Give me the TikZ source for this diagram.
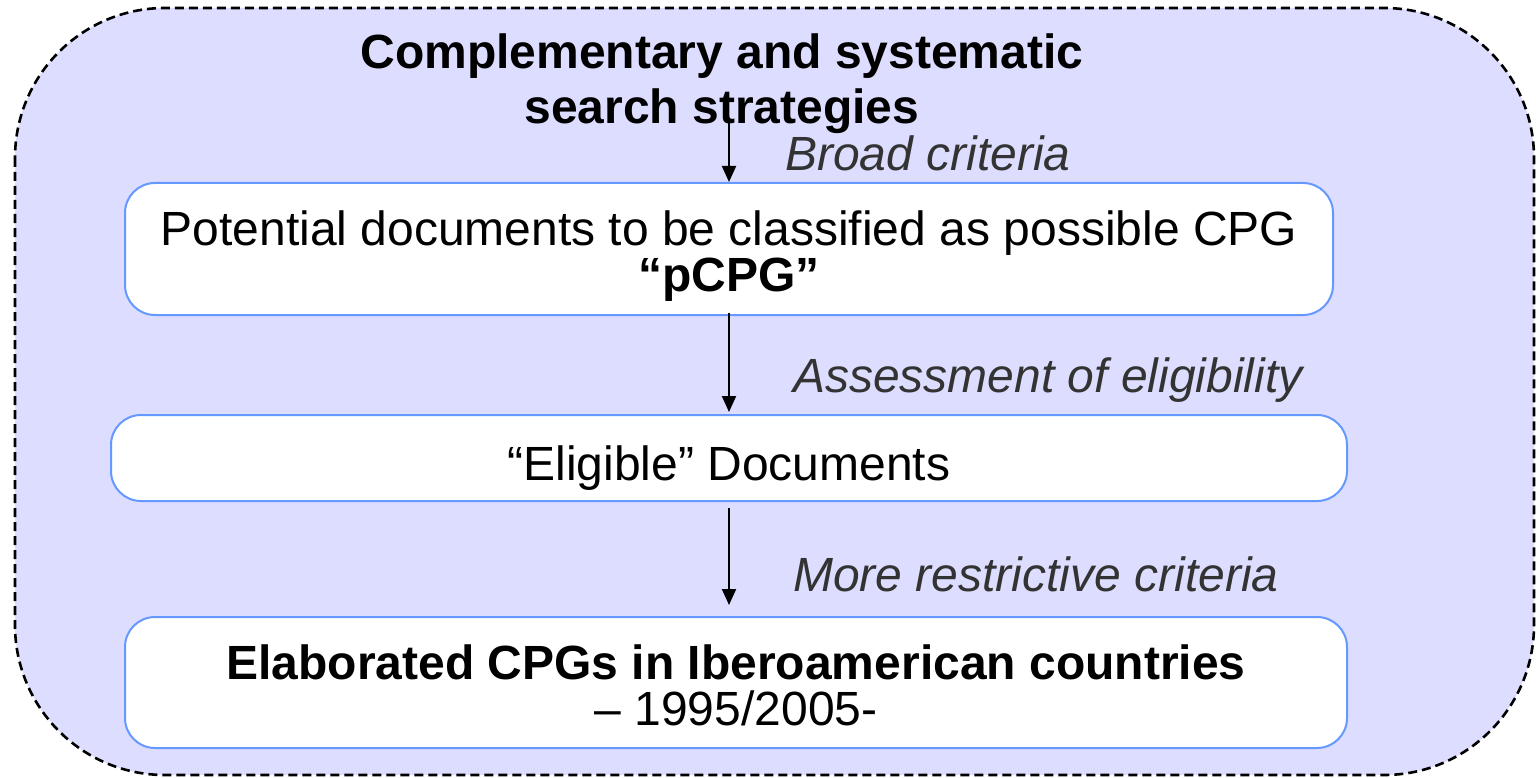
\documentclass[tikz,border=0pt]{standalone}
\usepackage{fontspec}
\setmainfont{Liberation Sans}
\usetikzlibrary{arrows.meta}
\definecolor{bgfill}{RGB}{221,221,255}
\definecolor{boxline}{RGB}{102,153,255}
\definecolor{labelgray}{RGB}{51,51,51}
\tikzset{
  stagebox/.style={draw=boxline, line width=2pt, fill=white, rounded corners=30pt, inner sep=0pt},
  stagetext/.style={inner sep=0pt, align=center, font=\fontsize{48}{46}\selectfont},
  flowarrow/.style={line width=2pt, -{Triangle[length=16pt,width=14pt]}},
  steplabel/.style={anchor=west, inner sep=0pt, text=labelgray, font=\fontsize{48}{55}\selectfont\itshape},
}
\begin{document}
\begin{tikzpicture}[x=1pt,y=-1pt]
\useasboundingbox (0,0) rectangle (1536,778);
\draw[fill=bgfill, dash pattern=on 9pt off 5pt, line width=2.6pt, rounded corners=150pt]
  (15,8) rectangle (1534,775);
\node[align=center, inner sep=0pt, font=\fontsize{48}{55}\selectfont\bfseries] (title) at (722,84)
  {Complementary and systematic\\search strategies};
\node[stagebox, minimum width=1208pt, minimum height=132pt] (box1) at (729,249) {};
\node[stagebox, minimum width=1236pt, minimum height=86pt] (box2) at (729,458) {};
\node[stagebox, minimum width=1222pt, minimum height=131pt] (box3) at (736,682.5) {};
\node[stagetext] (t1) at ([yshift=-7pt]box1.center)
  {Potential documents to be classified as possible CPG\\\textbf{“pCPG”}};
\node[stagetext] (t2) at ([yshift=-10pt]box2.center) {“Eligible” Documents};
\node[stagetext] (t3) at ([yshift=-3pt]box3.center)
  {\textbf{Elaborated CPGs in Iberoamerican countries}\\– 1995/2005-};
\coordinate (a1s) at (729,118);
\coordinate (a2s) at (729,313);
\coordinate (a3s) at (729,508);
\draw[flowarrow] (a1s) -- (a1s |- box1.north);
\draw[flowarrow] (a2s) -- ([yshift=2pt]a2s |- box2.north);
\draw[flowarrow] (a3s) -- ([yshift=11pt]a3s |- box3.north);
\node[steplabel] (l1) at (785,153) {Broad criteria};
\node[steplabel] (l2) at (793,380) {Assessment of eligibility};
\node[steplabel] (l3) at (793,574) {More restrictive criteria};
\end{tikzpicture}
\end{document}
